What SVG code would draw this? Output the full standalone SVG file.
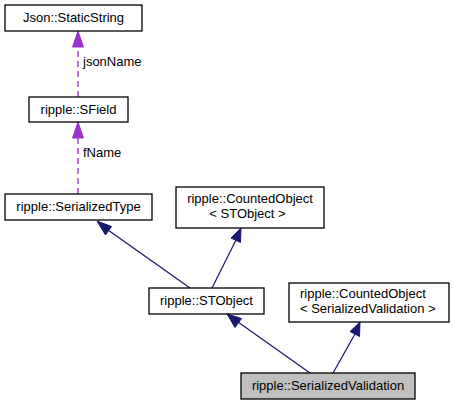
<svg xmlns="http://www.w3.org/2000/svg" width="453" height="405" viewBox="0 0 453 405">
<defs>
<style>
.box{fill:#ffffff;stroke:#000000;stroke-width:1.3}
.hl{fill:#bfbfbf;stroke:#000000;stroke-width:1.3}
text{font-family:"Liberation Sans",Arial,sans-serif;font-size:13px;fill:#000000}
.c{text-anchor:middle}
.inh{stroke:#191970;stroke-width:1.3;fill:none}
.use{stroke:#9a32cd;stroke-width:1.3;fill:none;stroke-dasharray:6,4}
.ah1{fill:#191970;stroke:#191970}
.ah2{fill:#9a32cd;stroke:#9a32cd}
</style>
</defs>
<rect width="453" height="405" fill="#ffffff"/>
<g id="edges">
<line class="use" x1="78" y1="97" x2="78" y2="47"/>
<polygon class="ah2" points="78,31 72.5,47 83.5,47"/>
<text x="83" y="66">jsonName</text>
<line class="use" x1="78" y1="194" x2="78" y2="138"/>
<polygon class="ah2" points="78,122 72.5,138 83.5,138"/>
<text x="83" y="157">fName</text>
<line class="inh" x1="190" y1="288" x2="108" y2="230"/>
<polygon class="ah1" points="97,221 105.5,235 111.5,226.5"/>
<line class="inh" x1="212" y1="288" x2="236" y2="240"/>
<polygon class="ah1" points="241,228 231,238 240.5,242.5"/>
<line class="inh" x1="310" y1="373" x2="238" y2="322"/>
<polygon class="ah1" points="227,314 235,327.5 241.5,318.5"/>
<line class="inh" x1="333" y1="373" x2="355" y2="334"/>
<polygon class="ah1" points="360,322 350,331.5 359.5,336.5"/>
</g>
<g id="json_staticstring">
<rect class="box" x="5" y="5" width="137" height="26"/>
<text class="c" x="73.5" y="22">Json::StaticString</text>
</g>
<g id="sfield">
<rect class="box" x="29" y="97" width="99" height="25"/>
<text class="c" x="78.5" y="114">ripple::SField</text>
</g>
<g id="serializedtype">
<rect class="box" x="5" y="194" width="147" height="26"/>
<text class="c" x="78.5" y="211">ripple::SerializedType</text>
</g>
<g id="countedobject_stobject">
<rect class="box" x="176" y="187" width="148" height="41"/>
<text class="c" x="250" y="203">ripple::CountedObject</text>
<text class="c" x="247.5" y="218">&lt; STObject &gt;</text>
</g>
<g id="stobject">
<rect class="box" x="149" y="288" width="115" height="26"/>
<text class="c" x="206.5" y="305">ripple::STObject</text>
</g>
<g id="countedobject_sv">
<rect class="box" x="289" y="283" width="160" height="39"/>
<text x="300" y="298">ripple::CountedObject</text>
<text x="300" y="313">&lt; SerializedValidation &gt;</text>
</g>
<g id="serializedvalidation">
<rect class="hl" x="241" y="373" width="174" height="26"/>
<text class="c" x="328" y="390">ripple::SerializedValidation</text>
</g>
</svg>
